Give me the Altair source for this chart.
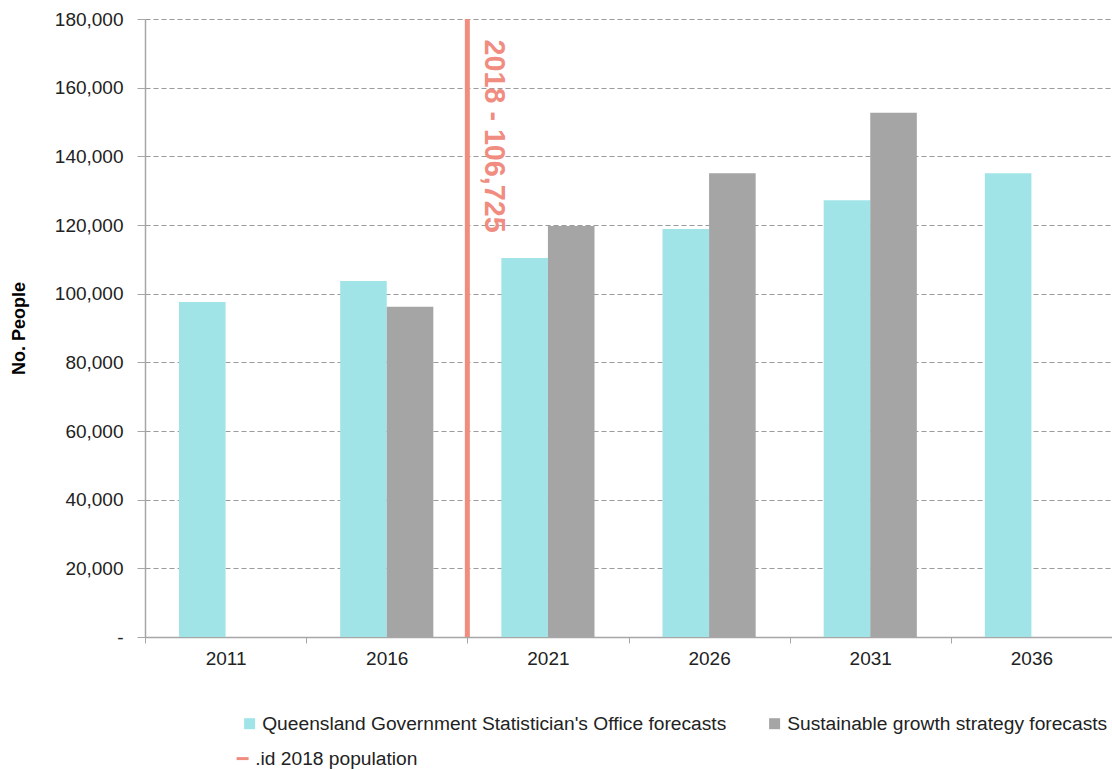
import altair as alt
import pandas as pd

years = ["2011", "2016", "2021", "2026", "2031", "2036"]
series = ["Queensland Government Statistician's Office forecasts",
          "Sustainable growth strategy forecasts"]
qgso = [97600, 103700, 110400, 118800, 127200, 135100]
sgs = [None, 96200, 119700, 135100, 152700, None]
colors = ["#A1E4E8", "#A5A5A5"]

marker_year = "2016"          # the 2018 marker sits at the end of this category
text_year = "2021"
marker_label = ".id 2018 population"
marker_text = "2018 - 106,725"
marker_color = "#F08C80"

rows = []
for i, y in enumerate(years):
    rows.append({"year": y, "series": series[0], "value": qgso[i]})
    if sgs[i] is not None:
        rows.append({"year": y, "series": series[1], "value": sgs[i]})
bars_df = pd.DataFrame(rows)
marker_df = pd.DataFrame([{"year": marker_year, "tyear": text_year,
                           "label": marker_label, "text": marker_text}])

FONT = "Liberation Sans"
W, H = 967, 618

x_scale = alt.Scale(domain=years, paddingInner=0, paddingOuter=0)
y_scale = alt.Scale(domain=[0, 180000], nice=False)

bars = alt.Chart(bars_df).mark_bar().encode(
    x=alt.X("year:N", scale=x_scale, sort=years,
            axis=alt.Axis(title=None, labelAngle=0, labelFontSize=19, labelColor="#222222",
                          labelFont=FONT, tickBand="extent", tickSize=6, tickColor="#A6A6A6",
                          domainColor="#A6A6A6", domainWidth=1.5, labelPadding=6, grid=False)),
    xOffset=alt.XOffset("series:N", scale=alt.Scale(domain=series, paddingInner=0, paddingOuter=0.73)),
    y=alt.Y("value:Q", scale=y_scale,
            axis=alt.Axis(title="No. People", titleFont=FONT, titleFontSize=18, titleFontWeight="bold",
                          titleColor="#000000", titlePadding=26,
                          values=[0, 20000, 40000, 60000, 80000, 100000, 120000, 140000, 160000, 180000],
                          labelExpr="datum.value == 0 ? '-' : format(datum.value, ',')",
                          labelFontSize=19, labelColor="#222222", labelFont=FONT, labelPadding=14,
                          tickSize=8, tickColor="#A6A6A6", domainColor="#A6A6A6", domainWidth=1.5,
                          grid=True, gridColor="#9A9A9A", gridDash=[5, 3], gridWidth=1)),
    color=alt.Color("series:N", scale=alt.Scale(domain=series, range=colors),
                    legend=alt.Legend(title=None, orient="none", legendX=95, legendY=695,
                                      direction="horizontal", symbolType="square", symbolSize=121,
                                      symbolStrokeWidth=0, labelFontSize=19.2, labelFont=FONT,
                                      labelColor="#222222", columnPadding=38, labelOffset=3,
                                      labelLimit=600)),
)

rule = alt.Chart(marker_df).mark_rule(strokeWidth=5).encode(
    x=alt.X("year:N", bandPosition=1),
    y=alt.datum(0),
    y2=alt.datum(180000),
    stroke=alt.Stroke("label:N", scale=alt.Scale(domain=[marker_label], range=[marker_color]),
                      legend=alt.Legend(title=None, orient="none", legendX=88, legendY=730,
                                        symbolType="stroke", symbolSize=144, symbolStrokeWidth=3,
                                        labelFontSize=19.2, labelFont=FONT, labelColor="#222222",
                                        labelOffset=3, labelLimit=600)),
)

text = alt.Chart(marker_df).mark_text(angle=90, align="left", baseline="alphabetic",
                                      font=FONT, fontSize=28.7, fontWeight="bold",
                                      color=marker_color).encode(
    x=alt.X("tyear:N", bandPosition=0.11),
    y=alt.datum(174000),
    text="text:N",
)

chart = alt.layer(bars, rule, text).resolve_scale(color="independent").properties(
    width=W, height=H,
    autosize=alt.AutoSizeParams(type="none"),
    padding={"left": 145, "top": 19, "right": 0, "bottom": 133},
    background="white",
).configure_view(stroke=None)

chart.save("out.html", embed_options={"renderer": "svg", "actions": False})
